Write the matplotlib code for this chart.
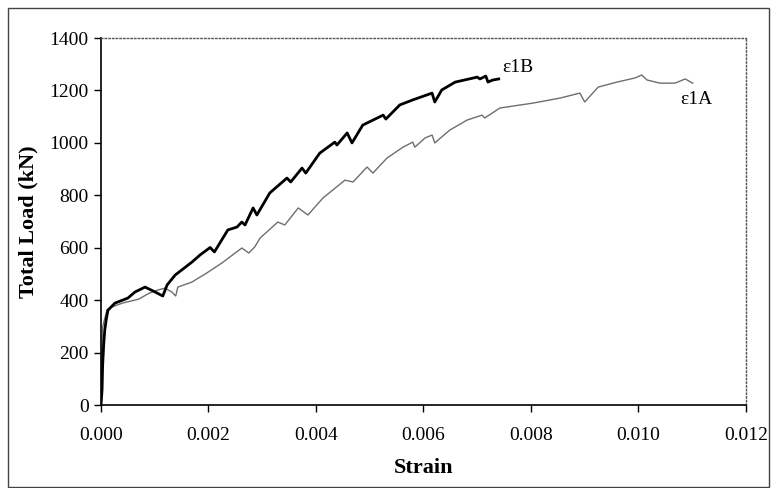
import matplotlib
matplotlib.use("Agg")
import matplotlib.pyplot as plt
from matplotlib.patches import Rectangle
from matplotlib.ticker import FormatStrFormatter

# gauge 1B (heavy black line)
strain_1b = [0, 0.00002, 0.00003, 0.00005, 0.00007, 0.0001, 0.00013, 0.00026,
             0.0005, 0.00063, 0.00082, 0.00097, 0.00115, 0.00123, 0.00138,
             0.00169, 0.00184, 0.00203, 0.00211, 0.00236, 0.00253, 0.00262,
             0.00268, 0.00283, 0.0029, 0.00314, 0.00346, 0.00353, 0.00374,
             0.00381, 0.00407, 0.00435, 0.00439, 0.00458, 0.00467, 0.00487,
             0.00525, 0.0053, 0.00556, 0.0058, 0.00616, 0.00621, 0.00634,
             0.00659, 0.007, 0.00705, 0.00716, 0.0072, 0.00729, 0.0074]
load_1b = [0, 60, 150, 230, 286, 330, 362, 389,
           408, 431, 450, 435, 416, 458, 496,
           545, 572, 601, 584, 668, 679, 698,
           687, 752, 725, 809, 866, 851, 904,
           885, 961, 1003, 992, 1038, 1000, 1068,
           1106, 1091, 1145, 1164, 1190, 1156, 1202,
           1232, 1251, 1244, 1255, 1232, 1240, 1244]

# gauge 1A (thin grey line)
strain_1a = [0, 0.00001, 0.00002, 0.00003, 0.00011, 0.0002, 0.0004, 0.0007,
             0.0009, 0.00106, 0.00119, 0.00132, 0.00139, 0.00143, 0.00169,
             0.00197, 0.00225, 0.00262, 0.00275, 0.00286, 0.00296, 0.00329,
             0.00342, 0.00367, 0.00385, 0.00413, 0.00454, 0.00469, 0.00495,
             0.00506, 0.00532, 0.00562, 0.0058, 0.00584, 0.00603, 0.00616,
             0.00621, 0.00649, 0.00681, 0.00709, 0.00714, 0.00742, 0.00804,
             0.00854, 0.00891, 0.009, 0.00925, 0.0096, 0.00994, 0.01006,
             0.01016, 0.0104, 0.01068, 0.01087, 0.01101]
load_1a = [0, 100, 200, 298, 362, 374, 389, 404,
           427, 439, 446, 431, 416, 450, 469,
           504, 542, 599, 580, 603, 637, 698,
           687, 752, 725, 790, 858, 851, 908,
           885, 942, 984, 1003, 984, 1019, 1030,
           1000, 1049, 1087, 1106, 1095, 1133, 1152,
           1171, 1190, 1156, 1213, 1232, 1248, 1259,
           1240, 1228, 1228, 1244, 1228]

x_ticks = [0.000, 0.002, 0.004, 0.006, 0.008, 0.010, 0.012]
y_ticks = [0, 200, 400, 600, 800, 1000, 1200, 1400]

plt.rcParams["font.family"] = ["Liberation Serif", "DejaVu Serif"]

fig = plt.figure(figsize=(7.71, 4.88), dpi=100)
ax = fig.add_axes([0.131, 0.170, 0.8365, 0.752])

# outer chart frame
fig.patches.append(Rectangle((0.011, 0.003), 0.987, 0.981, transform=fig.transFigure,
                             fill=False, edgecolor="#444444", linewidth=1.0))

ax.plot(strain_1a, load_1a, color="#6e6e6e", linewidth=1.0)
ax.plot(strain_1b, load_1b, color="black", linewidth=2.0)

ax.text(0.00746, 1286, "ε1B", fontsize=14, va="center", ha="left")
ax.text(0.01077, 1164, "ε1A", fontsize=14, va="center", ha="left")

ax.set_xlim(0, 0.012)
ax.set_ylim(0, 1400)
ax.set_xticks(x_ticks)
ax.set_yticks(y_ticks)
ax.xaxis.set_major_formatter(FormatStrFormatter("%.3f"))
ax.tick_params(axis="both", labelsize=14, length=5, width=1, direction="out")
ax.tick_params(axis="x", pad=11)
ax.tick_params(axis="y", pad=4)

ax.set_xlabel("Strain", fontsize=16, fontweight="bold", labelpad=10)
ax.set_ylabel("Total Load (kN)", fontsize=16, fontweight="bold", labelpad=8)

for side in ["top", "right"]:
    ax.spines[side].set_color("#555555")
    ax.spines[side].set_linestyle(":")
    ax.spines[side].set_linewidth(1.0)
for side in ["left", "bottom"]:
    ax.spines[side].set_linewidth(1.2)

fig.savefig("out.png", dpi=100)
